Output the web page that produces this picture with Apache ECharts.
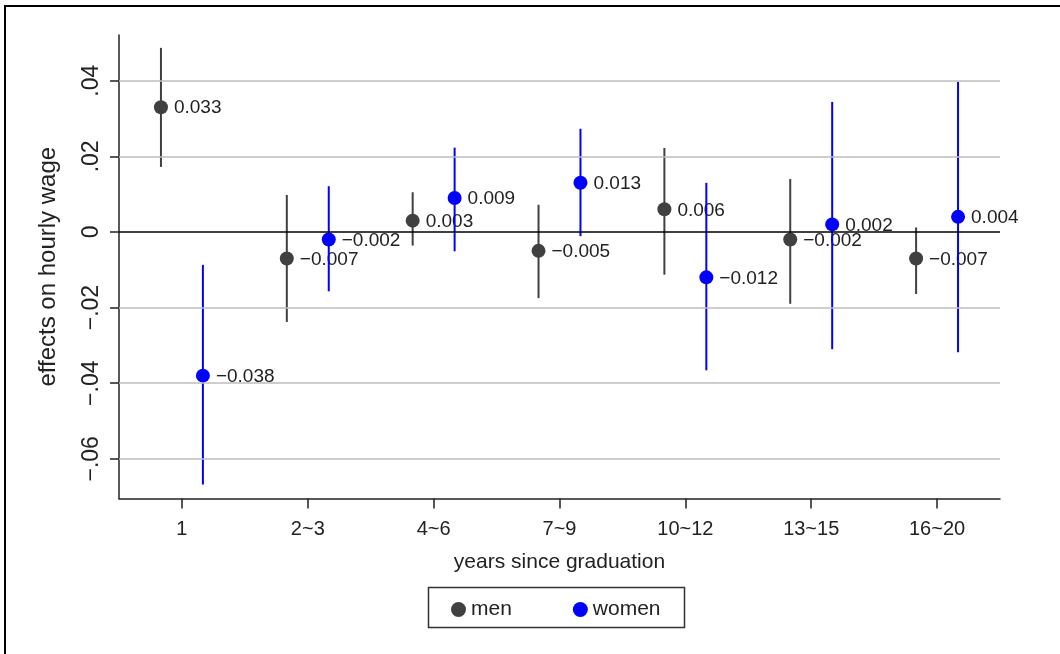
<!DOCTYPE html>
<html>
<head>
<meta charset="utf-8">
<script src="https://cdn.jsdelivr.net/npm/echarts@6/dist/echarts.min.js"></script>
<style>
  html, body { margin: 0; padding: 0; background: #fff; }
  #chart { width: 1060px; height: 654px; }
</style>
</head>
<body>
<div id="chart"></div>
<script>
const categories = ['1', '2~3', '4~6', '7~9', '10~12', '13~15', '16~20']
const menEst = [0.033, -0.007, 0.003, -0.005, 0.006, -0.002, -0.007]
const menLo = [0.0172, -0.0238, -0.0036, -0.0175, -0.0113, -0.019, -0.0164]
const menHi = [0.0487, 0.0098, 0.0105, 0.0072, 0.0222, 0.014, 0.0012]
const womenEst = [-0.038, -0.002, 0.009, 0.013, -0.012, 0.002, 0.004]
const womenLo = [-0.0668, -0.0157, -0.0051, -0.0011, -0.0366, -0.031, -0.0318]
const womenHi = [-0.0087, 0.0121, 0.0223, 0.0273, 0.013, 0.0344, 0.0397]
const yTicks = [-0.06, -0.04, -0.02, 0, 0.02, 0.04]

const FONT = '"Liberation Sans", Arial, sans-serif'
const TEXT = '#222'
const MEN = '#404040'
const WOMEN = '#0000ff'

const fmtVal = v => (v < 0 ? '\u2212' : '') + Math.abs(v).toFixed(3)
const fmtTick = v => v === 0 ? '0' : (v < 0 ? '\u2212' : '') + Math.abs(v).toFixed(2).replace(/^0/, '')

// 每個類別左右錯開：男在左、女在右
const makeRender = (off, color) => (params, api) => {
  const idx = api.value(0)
  const c = api.coord([idx, api.value(1)])
  const band = api.size([1, 0])[0]
  const x = c[0] + band * off
  const yLo = api.coord([idx, api.value(2)])[1]
  const yHi = api.coord([idx, api.value(3)])[1]
  return {
    type: 'group',
    children: [
      { type: 'line', shape: { x1: x, y1: yHi, x2: x, y2: yLo }, style: { stroke: color, lineWidth: 2 } },
      { type: 'circle', shape: { cx: x, cy: c[1], r: 7 }, style: { fill: color } },
      {
        type: 'text',
        style: {
          x: x + 13, y: c[1] + 1, text: fmtVal(api.value(1)),
          fill: TEXT, fontSize: 19, fontFamily: FONT, verticalAlign: 'middle'
        }
      }
    ]
  }
}

const rows = (est, lo, hi) => categories.map((c, i) => [i, est[i], lo[i], hi[i]])

const chart = echarts.init(document.getElementById('chart'))
chart.setOption({
  animation: false,
  backgroundColor: '#fff',
  grid: { left: 119, right: 60, top: 35, bottom: 155.5 },
  graphic: [
    { type: 'rect', shape: { x: 5, y: 6, width: 1100, height: 700 }, style: { fill: 'none', stroke: '#000', lineWidth: 2 }, silent: true },
    { type: 'rect', shape: { x: 428.5, y: 587.5, width: 256, height: 40 }, style: { fill: '#fff', stroke: '#333', lineWidth: 1.5 }, silent: true }
  ],
  legend: {
    data: [{ name: 'men', icon: 'circle' }, { name: 'women', icon: 'circle' }],
    left: 446, top: 594,
    itemWidth: 15, itemHeight: 15, itemGap: 61,
    textStyle: { fontSize: 21, fontFamily: FONT, color: TEXT },
    selectedMode: false
  },
  xAxis: {
    type: 'category',
    data: categories,
    name: 'years since graduation',
    nameLocation: 'middle',
    nameGap: 53,
    nameTextStyle: { fontSize: 21, fontFamily: FONT, color: TEXT },
    axisLine: { show: true, onZero: false, lineStyle: { color: '#222', width: 1.5 } },
    axisTick: { show: true, alignWithLabel: true, length: 10, lineStyle: { color: '#222', width: 1.5 } },
    axisLabel: { fontSize: 20, fontFamily: FONT, color: TEXT, margin: 21 },
    splitLine: { show: false }
  },
  yAxis: {
    type: 'value',
    min: -0.0705,
    max: 0.0521,
    name: 'effects on hourly wage',
    nameLocation: 'middle',
    nameRotate: 90,
    nameGap: 59,
    nameTextStyle: { fontSize: 24, fontFamily: FONT, color: TEXT },
    axisLine: { show: true, lineStyle: { color: '#222', width: 1.5 } },
    axisTick: { show: true, customValues: yTicks, length: 9, lineStyle: { color: '#222', width: 1.5 } },
    axisLabel: { customValues: yTicks, rotate: 90, formatter: fmtTick, fontSize: 23, fontFamily: FONT, color: TEXT, margin: 16 },
    splitLine: { show: false }
  },
  series: [
    {
      type: 'line',
      data: [],
      z: 1,
      markLine: {
        silent: true,
        symbol: 'none',
        label: { show: false },
        data: yTicks.map(v => ({
          yAxis: v,
          lineStyle: v === 0 ? { color: '#000', width: 1.5, type: 'solid' } : { color: '#bdbdbd', width: 1.5, type: 'solid' }
        }))
      }
    },
    {
      name: 'men',
      type: 'custom',
      z: 3,
      itemStyle: { color: MEN },
      renderItem: makeRender(-21 / 126, MEN),
      encode: { x: 0, y: [1, 2, 3] },
      data: rows(menEst, menLo, menHi)
    },
    {
      name: 'women',
      type: 'custom',
      z: 4,
      itemStyle: { color: WOMEN },
      renderItem: makeRender(21 / 126, WOMEN),
      encode: { x: 0, y: [1, 2, 3] },
      data: rows(womenEst, womenLo, womenHi)
    }
  ]
})
</script>
</body>
</html>
